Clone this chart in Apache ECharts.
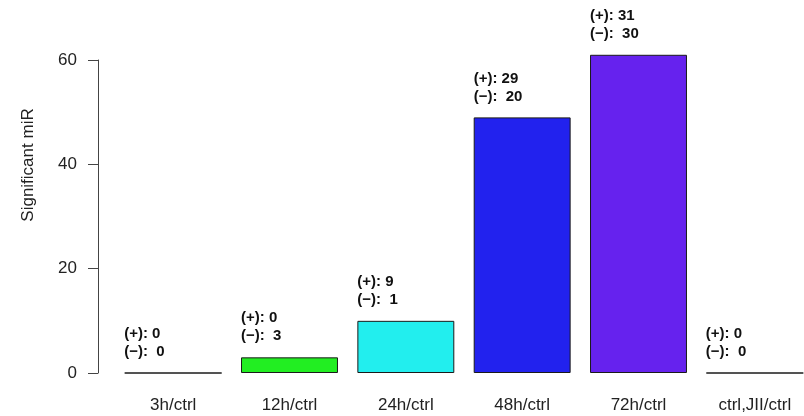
<!DOCTYPE html>
<html>
<head>
<meta charset="utf-8">
<script src="https://cdn.jsdelivr.net/npm/echarts@6/dist/echarts.min.js"></script>
<style>
  html, body { margin: 0; padding: 0; background: #ffffff; }
  #chart { width: 804px; height: 416px; }
</style>
</head>
<body>
<div id="chart"></div>
<script>
// Comparisons against control
const categories = ['3h/ctrl', '12h/ctrl', '24h/ctrl', '48h/ctrl', '72h/ctrl', 'ctrl,JII/ctrl'];
// Significant miRs going up (+) and down (−) per comparison
const upCounts = [0, 0, 9, 29, 31, 0];
const downCounts = [0, 3, 1, 20, 30, 0];
const barColors = ['#ee2222', '#22ee22', '#22eeee', '#2222ee', '#6622ee', '#ee22ee'];
const yTicks = [0, 20, 40, 60];

const FONT = '"Liberation Sans", Arial, Helvetica, sans-serif';

const totals = categories.map((c, i) => upCounts[i] + downCounts[i]);

const chart = echarts.init(document.getElementById('chart'), null, { renderer: 'canvas' });

chart.setOption({
  animation: false,
  backgroundColor: '#ffffff',
  grid: {
    left: 115, top: 60, width: 698, height: 313,
    containLabel: false,
    outerBoundsMode: 'none'
  },
  xAxis: {
    type: 'category',
    data: categories,
    axisLine: { show: false },
    axisTick: { show: false },
    axisLabel: {
      margin: 24,
      fontSize: 17,
      fontFamily: FONT,
      color: '#222222',
      interval: 0
    }
  },
  yAxis: {
    type: 'value',
    min: yTicks[0],
    max: yTicks[yTicks.length - 1],
    interval: yTicks[1] - yTicks[0],
    offset: 17,
    splitLine: { show: false },
    axisLine: { show: true, lineStyle: { color: '#444444', width: 1 } },
    axisTick: { show: true, inside: false, length: 10, lineStyle: { color: '#444444', width: 1 } },
    axisLabel: {
      margin: 21,
      fontSize: 17,
      fontFamily: FONT,
      color: '#222222'
    }
  },
  graphic: [{
    type: 'text',
    x: 28,
    y: 165,
    rotation: Math.PI / 2,
    style: {
      text: 'Significant miR',
      font: '17px ' + FONT,
      fill: '#222222',
      align: 'center',
      verticalAlign: 'middle'
    }
  }],
  series: [{
    type: 'bar',
    clip: false,
    barCategoryGap: '16.67%',
    data: totals.map((v, i) => ({
      value: v,
      itemStyle: { color: barColors[i] }
    })),
    itemStyle: { borderColor: '#1a1a1a', borderWidth: 1 },
    label: {
      show: true,
      position: [0, -12],
      align: 'left',
      verticalAlign: 'bottom',
      fontFamily: FONT,
      fontSize: 15,
      fontWeight: 'bold',
      lineHeight: 18,
      color: '#111111',
      formatter: (p) => '(+): ' + upCounts[p.dataIndex] + '\n(−):  ' + downCounts[p.dataIndex]
    }
  }]
});
</script>
</body>
</html>
